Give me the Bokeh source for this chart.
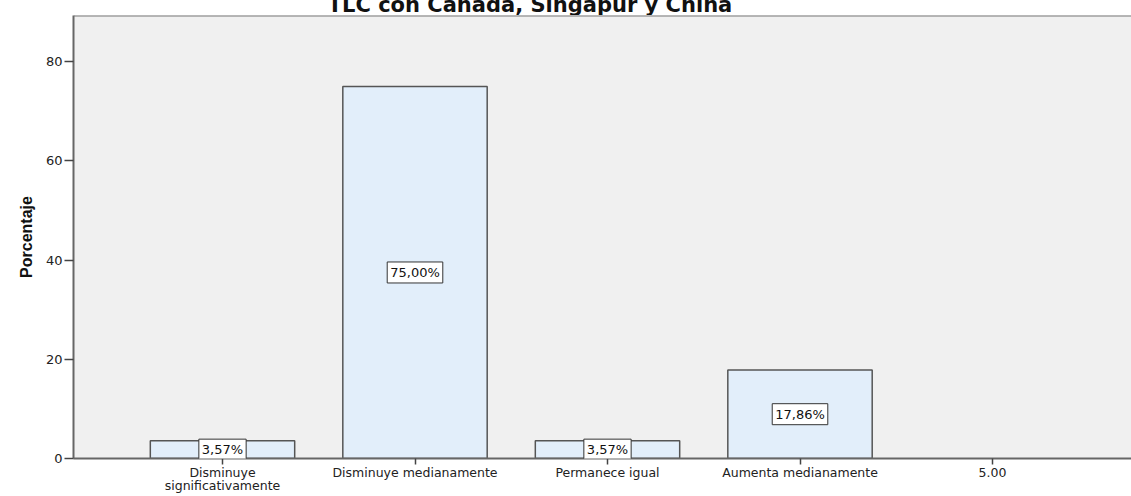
from bokeh.plotting import figure
from bokeh.models import ColumnDataSource, Label, FixedTicker, Range1d, Span, Div
from bokeh.layouts import column
from bokeh.embed import file_html
from bokeh.resources import INLINE

categories = ["Disminuye\nsignificativamente", "Disminuye medianamente",
              "Permanece igual", "Aumenta medianamente", "5.00"]
values = [3.57, 75.00, 3.57, 17.86, 0.0]
value_labels = ["3,57%", "75,00%", "3,57%", "17,86%", ""]
y_ticks = [0, 20, 40, 60, 80]
title_text = "TLC con Canadá, Singapur y China"
y_title = "Porcentaje"

Y_MAX = 89.3
X0, X1 = 0.226, 5.722

positions = list(range(1, len(categories) + 1))
bar_pos = [p for p, v in zip(positions, values) if v > 0]
bar_val = [v for v in values if v > 0]
bar_lab = [l for l, v in zip(value_labels, values) if v > 0]

src = ColumnDataSource(dict(x=bar_pos, top=bar_val))

# title strip (the title is cut off at the top, as in the original)
head = Div(text=('<div style="width:1060px;text-align:center;white-space:nowrap;'
                 'font-family:\'DejaVu Sans\';font-weight:bold;font-size:21px;'
                 'line-height:21px;margin-top:-12px;color:#111111;">'
                 + title_text + '</div>'),
           width=1131, height=15, margin=0, styles={"overflow": "hidden"})

p = figure(width=1131, height=481, output_backend="svg", toolbar_location=None,
           x_range=Range1d(X0, X1), y_range=Range1d(0, Y_MAX),
           min_border_left=73, min_border_right=0, min_border_top=0,
           min_border_bottom=30, margin=0)
p.background_fill_color = "#F0F0F0"
p.border_fill_color = "white"
p.outline_line_color = None
p.xgrid.visible = False
p.ygrid.visible = False

p.add_layout(Span(location=Y_MAX, dimension="width", line_color="#777777", line_width=2))

p.vbar(x="x", top="top", width=0.75, bottom=0, source=src,
       fill_color="#E2EEFA", line_color="#555555", line_width=1.5)

for xp, v, lab in zip(bar_pos, bar_val, bar_lab):
    p.add_layout(Label(x=xp, y=v / 2, text=lab, text_align="center",
                       text_baseline="middle", text_font="DejaVu Sans", text_font_size="13px",
                       text_color="#111111", background_fill_color="white",
                       border_line_color="#333333", border_line_width=1, padding=3))

# axes
p.xaxis.ticker = FixedTicker(ticks=positions)
p.xaxis.major_label_overrides = {pos: c for pos, c in zip(positions, categories)}
p.yaxis.ticker = FixedTicker(ticks=y_ticks)
for ax in (p.xaxis[0], p.yaxis[0]):
    ax.axis_line_color = "#666666"
    ax.axis_line_width = 2
    ax.major_tick_line_color = "#444444"
    ax.major_tick_line_width = 1.5
    ax.minor_tick_line_color = None
    ax.major_tick_in = 0
    ax.major_label_text_font = "DejaVu Sans"
    ax.major_label_text_font_size = "13px"
    ax.major_label_text_color = "#222222"
p.xaxis.major_tick_out = 6
p.xaxis.major_label_standoff = 0
p.xaxis.major_label_text_font_size = "12.5px"
p.xaxis.major_label_text_line_height = 0.9
p.yaxis.major_tick_out = 9
p.yaxis.major_label_standoff = 2
p.yaxis.axis_label = y_title
p.yaxis.axis_label_text_font = "Liberation Sans"
p.yaxis.axis_label_text_font_style = "bold"
p.yaxis.axis_label_text_font_size = "16px"
p.yaxis.axis_label_text_color = "#111111"
p.yaxis.axis_label_standoff = 8

layout = column(head, p, spacing=0, margin=0)

open("out.html", "w").write(file_html(layout, INLINE))
